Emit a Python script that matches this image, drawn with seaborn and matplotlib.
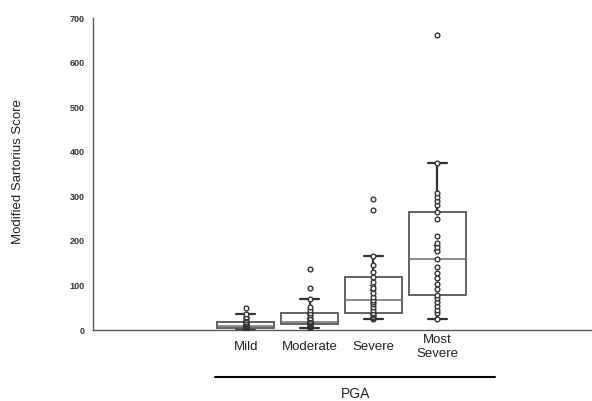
import pandas as pd
import matplotlib.pyplot as plt
import seaborn as sns


# ==========================================
# DATA
# ==========================================

categories = ["Mild", "Moderate", "Severe", "Most\nSevere"]

mild = [1, 2, 3, 4, 5, 5, 6, 7, 8, 9, 10, 11, 12, 14, 16, 19, 22, 26, 30, 36, 49]

moderate = [4, 6, 8, 10, 12, 14, 15, 16, 17, 18, 19, 21, 24, 28, 33, 39, 45,
            52, 70, 95, 137]

severe = [25, 28, 30, 33, 36, 38, 45, 52, 58, 63, 67, 75, 84, 95, 108, 118,
          130, 145, 166, 270, 295]

most_severe = [25, 38, 46, 55, 63, 72, 78, 92, 104, 116, 128, 142, 159, 177,
               187, 196, 211, 249, 265, 280, 290, 298, 307, 375, 663]

y_ticks = [0, 100, 200, 300, 400, 500, 600, 700]


# ==========================================
# BUILD LONG TABLE
# ==========================================

groups = [mild, moderate, severe, most_severe]

df = pd.DataFrame({
    "PGA": [c for c, g in zip(categories, groups) for _ in g],
    "score": [v for g in groups for v in g],
})


# ==========================================
# PLOT
# ==========================================

sns.set_style("white")
plt.rcParams["font.family"] = ["Liberation Sans", "DejaVu Sans"]

fig = plt.figure(figsize=(5.92, 4.01), dpi=100)
ax = fig.add_axes([0.157, 0.177, 0.843, 0.778])

sns.boxplot(
    data=df,
    x="PGA",
    y="score",
    order=categories,
    width=0.89,
    color="white",
    linecolor="#555555",
    linewidth=1.3,
    showfliers=False,
    showmeans=True,
    meanprops={"marker": "x", "markeredgecolor": "#333333",
               "markersize": 5, "markeredgewidth": 1.1},
    whiskerprops={"color": "#333333", "linewidth": 1.6},
    capprops={"color": "#333333", "linewidth": 1.6},
    medianprops={"color": "#777777", "linewidth": 1.2},
    capwidths=0.3,
    ax=ax,
)

sns.stripplot(
    data=df,
    x="PGA",
    y="score",
    order=categories,
    jitter=False,
    size=3.4,
    marker="o",
    color="white",
    edgecolor="#333333",
    linewidth=1.0,
    ax=ax,
)

ax.set_xlim(-2.39, 5.42)
ax.set_ylim(0, 700)
ax.set_yticks(y_ticks)
ax.set_yticklabels([str(t) for t in y_ticks], fontsize=6.5,
                   fontweight="bold", color="#333333")
ax.tick_params(axis="y", length=0, pad=6)
ax.tick_params(axis="x", length=0, pad=12.5, labelsize=9.5, colors="#222222")
for lbl in ax.get_xticklabels():
    lbl.set_verticalalignment("center")

ax.set_xlabel("")
ax.set_ylabel("")

for side in ["top", "right"]:
    ax.spines[side].set_visible(False)
for side in ["left", "bottom"]:
    ax.spines[side].set_color("#595959")
    ax.spines[side].set_linewidth(1.0)

# axis titles and the line above "PGA"
fig.text(0.03, 0.571, "Modified Sartorius Score", rotation=90,
         ha="center", va="center", fontsize=9.5, color="#222222")
fig.text(0.6, 0.017, "PGA", ha="center", va="center",
         fontsize=10, color="#222222")
fig.add_artist(plt.Line2D([0.363, 0.836], [0.06, 0.06],
                          transform=fig.transFigure, color="black",
                          linewidth=1.5))

fig.savefig("out.png", dpi=100)
plt.close(fig)
